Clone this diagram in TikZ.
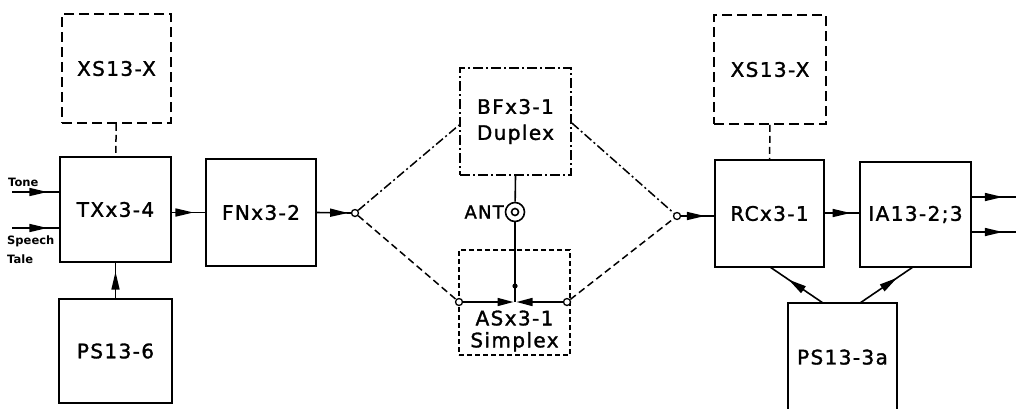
\documentclass[tikz,border=0pt]{standalone}
\usepackage{fontspec}
\setmainfont{DejaVu Sans}
\newfontfamily\lblfont[LetterSpace=7,FakeBold=1.5]{DejaVu Sans}
\usetikzlibrary{arrows.meta,decorations.markings}
\begin{document}
\begin{tikzpicture}[x=1pt,y=-1pt,
  box/.style={draw,line width=1.7pt,inner sep=0pt,align=center,
    font=\lblfont\fontsize{20}{26}\selectfont},
  dbox/.style={box,dash pattern=on 10pt off 5pt},
  ddbox/.style={box,dash pattern=on 10pt off 3pt on 2pt off 3pt},
  sbox/.style={box,line width=1.5pt,dash pattern=on 5pt off 3pt},
  conn/.style={line width=1.6pt},
  dconn/.style={line width=1.5pt,dash pattern=on 7pt off 4pt},
  ddconn/.style={line width=1.5pt,dash pattern=on 9pt off 3pt on 2pt off 3pt},
  mid/.style={conn,postaction={decorate},decoration={markings,
    mark=at position #1 with {\arrow{Triangle[length=18pt,width=8pt]}}}},
  junc/.style={circle,draw,fill=white,line width=1.3pt,minimum size=7pt,inner sep=0pt},
  small/.style={font=\bfseries\fontsize{11.5}{13}\selectfont,inner sep=0pt}
]
\useasboundingbox (0,0) rectangle (1016,408);
\clip (0,0) rectangle (1016,408);
\fill[white] (0,0) rectangle (1016,408);

% boxes
\node[dbox,minimum width=109pt,minimum height=109pt] (xs1) at (116.5,68.5) {XS13-X};
\node[box,minimum width=111pt,minimum height=105pt] (tx) at (115.5,209.5) {TXx3-4};
\node[box,minimum width=113pt,minimum height=104pt] (ps1) at (115.5,351) {PS13-6};
\node[box,minimum width=110pt,minimum height=107pt] (fn) at (261,212.5) {FNx3-2};
\node[ddbox,minimum width=111pt,minimum height=107pt] (bf) at (515.5,121.5) {BFx3-1\\Duplex};
\node[sbox,minimum width=111pt,minimum height=105pt] (as) at (514.5,302.5) {};
\node[font=\lblfont\fontsize{20}{22}\selectfont,align=center,inner sep=0pt] (astext) at (514.5,331) {ASx3-1\\Simplex};
\node[box,minimum width=109pt,minimum height=107pt] (rc) at (769.5,213.5) {RCx3-1};
\node[dbox,minimum width=112pt,minimum height=109pt] (xs2) at (770,69.5) {XS13-X};
\node[box,minimum width=111pt,minimum height=105pt] (ia) at (915.5,214.5) {IA13-2;3};
\node[box,minimum width=109pt,minimum height=118pt,text depth=10pt] (ps2) at (842.5,362) {PS13-3a};

% small labels
\node[small,anchor=west] (tone) at (8,182) {Tone};
\node[small,anchor=west] (speech) at (7,241) {Speech};
\node[small,anchor=west] (tale) at (7,259) {Tale};

% coordinates
\coordinate (tin) at (12,192);
\coordinate (sin) at (12,228);
\coordinate (o1) at (1016,197);
\coordinate (o2) at (1016,232);
\coordinate (jc) at (515,302);
\coordinate (psr) at (823,303);
\coordinate (psi) at (860,303);
\coordinate (rcb) at (770,267);
\coordinate (iab) at (913,267);

% junctions
\node[junc] (jl) at (355,213) {};
\node[junc] (jr) at (677,216) {};
\node[junc] (al) at (459,302) {};
\node[junc] (ar) at (567,302) {};
\node[circle,draw,fill=white,line width=1.6pt,minimum size=19pt,inner sep=0pt] (ant) at (515,212) {};
\node[circle,draw,line width=1.6pt,minimum size=7pt,inner sep=0pt] (antin) at (ant.center) {};
\node[font=\lblfont\fontsize{18}{20}\selectfont,anchor=east,inner sep=0pt] (antl) at (504,212) {ANT};

% connectors
\draw[dconn] (xs1) -- (tx);
\draw[dconn] (xs2) -- (rc);
\draw[mid=0.75] (tin) -- (tx.west|-tin);
\draw[mid=0.75] (sin) -- (tx.west|-sin);
\draw[mid=0.75] (ps1) -- (tx);
\draw[mid=0.65] (tx.east|-fn) -- (fn);
\draw[mid=0.92] (fn.east) -- (jl.west);
\draw[ddconn] (jl) -- (bf.west|-0,125);
\draw[dconn] (jl) -- (al);
\draw[ddconn] (bf.east|-0,123) -- (jr);
\draw[dconn] (ar) -- (jr);
\draw[mid=0.72] (jr.east) -- (rc.west|-jr);
\draw[mid=0.75] (rc.east|-0,213) -- (ia.west|-0,213);
\draw[mid=0.7] (ia.east|-o1) -- (o1);
\draw[mid=0.7] (ia.east|-o2) -- (o2);
\draw[mid=0.65] (psr) -- (rcb);
\draw[mid=0.7] (psi) -- (iab);
\draw[conn] (bf.south) -- (ant);
\draw[conn] (ant) -- (jc);
\fill (515,286) circle (2.6pt);
\draw[conn,-{Triangle[length=16pt,width=8pt]}] (al) -- ([xshift=-1.5pt]jc);
\draw[conn,-{Triangle[length=16pt,width=8pt]}] (ar) -- ([xshift=1.5pt]jc);
\end{tikzpicture}
\end{document}
